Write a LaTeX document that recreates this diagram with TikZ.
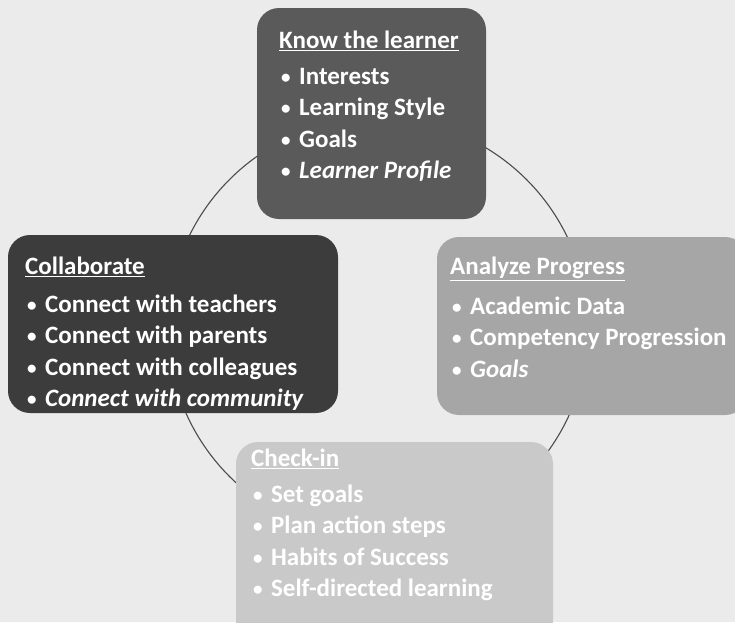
\documentclass[tikz,border=0pt]{standalone}
\usepackage{fontspec}
\setmainfont{Carlito}
\definecolor{bgc}{HTML}{EBEBEB}
\definecolor{topc}{HTML}{5A5A5A}
\definecolor{leftc}{HTML}{3C3C3C}
\definecolor{rightc}{HTML}{A6A6A6}
\definecolor{botc}{HTML}{C9C9C9}
\newcommand\bulitem{\hspace{2pt}\raisebox{1.2pt}{\fontsize{19}{19}\selectfont\textbullet}\hspace{8.5pt}}
\begin{document}
\begin{tikzpicture}[x=1pt,y=-1pt,
  box/.style={rounded corners=22pt, inner sep=0pt, draw=none},
  txt/.style={anchor=north west, align=left, text=white, inner sep=0pt,
    font=\fontsize{25}{31.5}\selectfont\bfseries},
  cyc/.style={draw=black!70, line width=1.1pt}]
\useasboundingbox[fill=bgc] (0,0) rectangle (735,622);
\coordinate (ctr) at (378,328);
\draw[cyc] (ctr) circle[radius=210];
% boxes
\node[box, fill=topc, minimum width=229pt, minimum height=211pt] (know) at (371.5,113.5) {};
\node[box, fill=leftc, minimum width=330pt, minimum height=178pt] (collab) at (173,324) {};
\node[box, fill=rightc, minimum width=310pt, minimum height=178pt] (analyze) at (592,326) {};
\node[box, fill=botc, minimum width=317pt, minimum height=200pt] (check) at (394.5,542) {};
% texts
\node[txt] (knowtxt) at (279,31) {\underline{Know the learner}\\[4pt]
  \bulitem Interests\\ \bulitem Learning Style\\ \bulitem Goals\\
  \bulitem \textit{Learner Profile}};
\node[txt] (collabtxt) at (25,257) {\underline{Collaborate}\\[6pt]
  \bulitem Connect with teachers\\ \bulitem Connect with parents\\
  \bulitem Connect with colleagues\\ \bulitem \textit{Connect with community}};
\node[txt] (analyzetxt) at (450,257) {\underline{Analyze Progress}\\[8pt]
  \bulitem Academic Data\\ \bulitem Competency Progression\\
  \bulitem \textit{Goals}};
\node[txt] (checktxt) at (251,449) {\underline{Check-in}\\[4pt]
  \bulitem Set goals\\ \bulitem Plan action steps\\
  \bulitem Habits of Success\\ \bulitem Self-directed learning};
\end{tikzpicture}
\end{document}
